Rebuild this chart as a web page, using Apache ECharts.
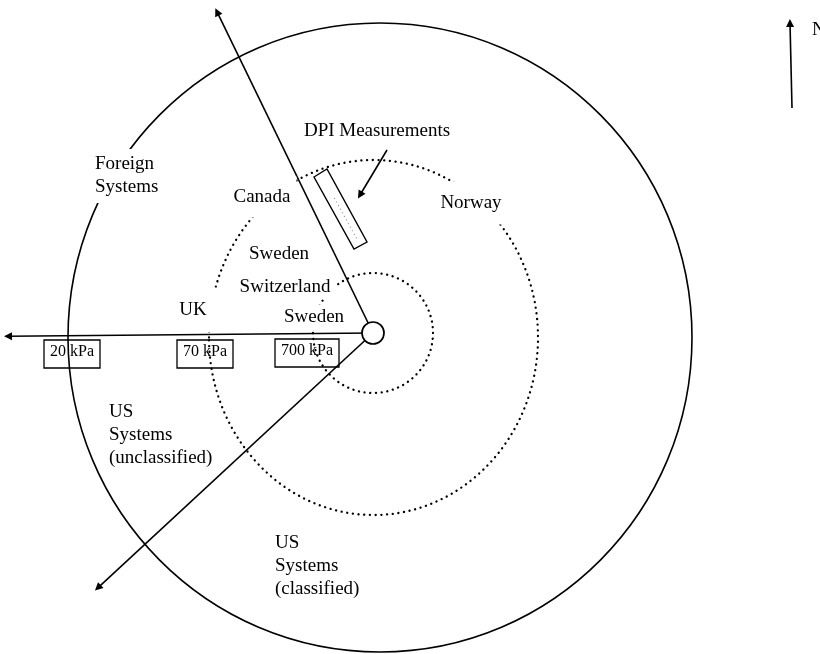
<!DOCTYPE html>
<html><head><meta charset="utf-8">
<script src="https://cdn.jsdelivr.net/npm/echarts@6/dist/echarts.min.js"></script>
<style>html,body{margin:0;padding:0;background:#fff}#c{width:820px;height:654px}</style>
</head><body><div id="c"></div>
<script>
// Diagram units (about 1 unit per px), origin at the central hub, y pointing north.

// Pressure contours (innermost first)
const ringLabels  = ['700 kPa', '70 kPa', '20 kPa'];
const ringCenterX = [0, 0.5, 7];
const ringCenterY = [0, -4.5, -4.5];
const ringRadiusX = [60, 164.5, 312];
const ringRadiusY = [60, 177.5, 314.5];

// Pressure tag boxes (top-left corner), same order as ringLabels
const tagX = [-98, -196, -329];
const tagY = [-6, -7, -7];

// Sector boundary arrows from the hub (compass bearing in degrees, length)
const sectorBearings = [334.1, 269.5, 227.2];
const sectorLengths  = [357, 365, 375];

// Other arrows: [fromX, fromY, toX, toY]
const dpiPointer = [14, 183, -13, 138];
const northArrow = [419, 225, 417, 310];

// DPI measurement strip corners
const dpiStripX = [-59, -46, -6, -19];
const dpiStripY = [156, 164, 91, 84];

// Text labels
const labelTexts = ['DPI Measurements', 'Foreign\nSystems', 'Canada', 'Sweden', 'Switzerland',
  'UK', 'Sweden', 'Norway', 'US\nSystems\n(unclassified)', 'US\nSystems\n(classified)', 'N'];
const labelX = [4, -282, -111, -94, -88, -178, -59, 98, -266, -100, 439];
const labelY = [202, 157, 136, 79, 46, 23, 16, 130, -102.5, -233.5, 303];

// ---- styling (kept apart from the data) ----
const FONT = '"Liberation Serif", "Times New Roman", serif';
const leftAligned = new Set([1, 8, 9, 10]);
const labelPad = {0: [2, 4], 1: [4, 4], 2: [9, 6], 3: [2, 4], 4: [1, 5], 5: [12, 10, 10, 6], 6: [1, 6], 7: [10, 6], 8: [2, 2], 9: [2, 2], 10: [0, 0]};

const arrowData = sectorBearings.map((b, i) => {
  const r = b * Math.PI / 180;
  return { coords: [[0, 0], [sectorLengths[i] * Math.sin(r), sectorLengths[i] * Math.cos(r)]] };
});
arrowData.push({ coords: [[dpiPointer[0], dpiPointer[1]], [dpiPointer[2], dpiPointer[3]]] });
arrowData.push({ coords: [[northArrow[0], northArrow[1]], [northArrow[2], northArrow[3]]] });

const chart = echarts.init(document.getElementById('c'), null, { renderer: 'canvas' });
chart.setOption({
  animation: false,
  backgroundColor: '#fff',
  grid: { left: 0, right: 0, top: 0, bottom: 0 },
  xAxis: { type: 'value', min: -373, max: 447, show: false },
  yAxis: { type: 'value', min: -321, max: 333, show: false },
  series: [
    {
      type: 'custom', coordinateSystem: 'cartesian2d', z: 1, silent: true, clip: false,
      data: ringLabels.map((n, i) => [ringCenterX[i], ringCenterY[i], ringRadiusX[i], ringRadiusY[i]]),
      renderItem(params, api) {
        const c = api.coord([api.value(0), api.value(1)]);
        const s = api.size([api.value(2), api.value(3)]);
        const outer = params.dataIndex === ringLabels.length - 1;
        return {
          type: 'ellipse',
          shape: { cx: c[0], cy: c[1], rx: s[0], ry: s[1] },
          style: outer
            ? { fill: 'none', stroke: '#000', lineWidth: 1.6 }
            : { fill: 'none', stroke: '#000', lineWidth: 2.3, lineDash: [0.1, 5.6], lineCap: 'round' }
        };
      }
    },
    {
      type: 'lines', coordinateSystem: 'cartesian2d', z: 2, silent: true, clip: false,
      symbol: ['none', 'triangle'], symbolSize: 8,
      lineStyle: { color: '#000', width: 1.6, opacity: 1, curveness: 0 },
      data: arrowData
    },
    {
      type: 'custom', coordinateSystem: 'cartesian2d', z: 3, silent: true, clip: false,
      data: [[0]],
      renderItem(params, api) {
        const pts = dpiStripX.map((x, i) => api.coord([x, dpiStripY[i]]));
        const m1 = [(pts[0][0] + pts[1][0]) / 2, (pts[0][1] + pts[1][1]) / 2];
        const m2 = [(pts[2][0] + pts[3][0]) / 2, (pts[2][1] + pts[3][1]) / 2];
        const a = 0.35, b = 0.92;
        return {
          type: 'group',
          children: [
            { type: 'polygon', shape: { points: pts }, style: { fill: '#fff', stroke: '#000', lineWidth: 1.4 } },
            { type: 'line', shape: { x1: m1[0] + (m2[0] - m1[0]) * a, y1: m1[1] + (m2[1] - m1[1]) * a,
                x2: m1[0] + (m2[0] - m1[0]) * b, y2: m1[1] + (m2[1] - m1[1]) * b },
              style: { stroke: '#999', lineWidth: 1.2, lineDash: [0.1, 4], lineCap: 'round' } }
          ]
        };
      }
    },
    {
      type: 'scatter', z: 4, silent: true, data: [[0, 0]], symbol: 'circle', symbolSize: 22,
      itemStyle: { color: '#fff', borderColor: '#000', borderWidth: 1.7, opacity: 1 }
    },
    {
      type: 'custom', coordinateSystem: 'cartesian2d', z: 5, silent: true, clip: false,
      data: labelTexts.map((t, i) => [labelX[i], labelY[i]]),
      renderItem(params, api) {
        const i = params.dataIndex;
        const p = api.coord([api.value(0), api.value(1)]);
        return {
          type: 'text', x: p[0], y: p[1],
          style: {
            text: labelTexts[i], font: '19px ' + FONT, fill: '#000',
            align: leftAligned.has(i) ? 'left' : 'center', verticalAlign: 'middle',
            lineHeight: 23, backgroundColor: i === 10 ? 'transparent' : '#fff', padding: labelPad[i]
          }
        };
      }
    },
    {
      type: 'custom', coordinateSystem: 'cartesian2d', z: 5, silent: true, clip: false,
      data: ringLabels.map((t, i) => [tagX[i], tagY[i]]),
      renderItem(params, api) {
        const i = params.dataIndex;
        const p = api.coord([api.value(0), api.value(1)]);
        return {
          type: 'text', x: p[0], y: p[1],
          style: {
            text: ringLabels[i], font: '16px ' + FONT, fill: '#000',
            align: 'left', verticalAlign: 'top', lineHeight: 16,
            borderColor: '#000', borderWidth: 1.3, padding: [4, 6, 8, 6]
          }
        };
      }
    }
  ]
});
</script>
</body></html>
